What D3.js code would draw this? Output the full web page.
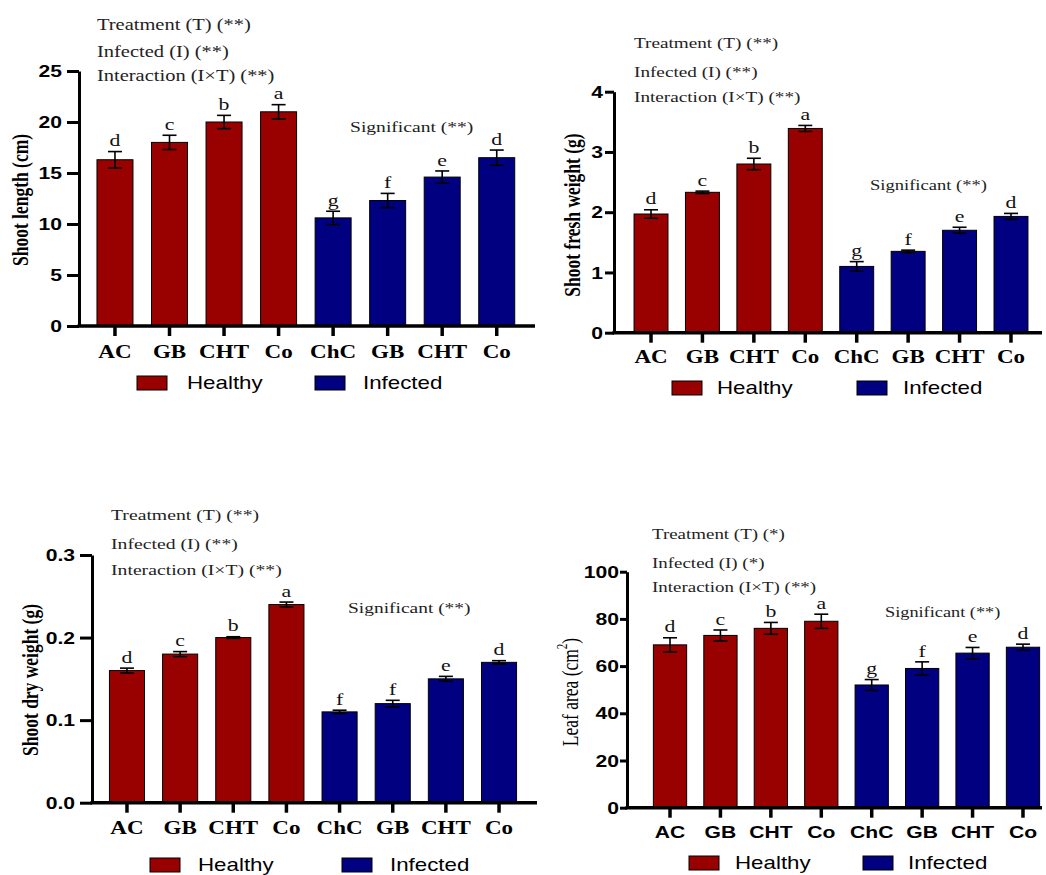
<!DOCTYPE html>
<html>
<head>
<meta charset="utf-8">
<script src="https://cdn.jsdelivr.net/npm/d3@7"></script>
<style>
  body { margin: 0; background: #ffffff; }
  svg { display: block; }
</style>
</head>
<body>
<div id="container"></div>
<script>
// categories (same order in all four panels)
var categories = ['AC', 'GB', 'CHT', 'Co', 'ChC', 'GB', 'CHT', 'Co']
var groups = ['Healthy', 'Healthy', 'Healthy', 'Healthy', 'Infected', 'Infected', 'Infected', 'Infected']
var legendNames = ['Healthy', 'Infected']

// shoot length (cm)
var shootLength = [16.3, 18.0, 20.0, 21.0, 10.6, 12.3, 14.6, 16.5]
var shootLengthErr = [0.8, 0.7, 0.65, 0.7, 0.65, 0.7, 0.6, 0.75]
var shootLengthLetters = ['d', 'c', 'b', 'a', 'g', 'f', 'e', 'd']
var shootLengthTicks = [0, 5, 10, 15, 20, 25]

// shoot fresh weight (g)
var freshWeight = [1.97, 2.33, 2.8, 3.39, 1.1, 1.35, 1.7, 1.93]
var freshWeightErr = [0.07, 0.02, 0.095, 0.05, 0.08, 0.02, 0.05, 0.05]
var freshWeightLetters = ['d', 'c', 'b', 'a', 'g', 'f', 'e', 'd']
var freshWeightTicks = [0, 1, 2, 3, 4]

// shoot dry weight (g)
var dryWeight = [0.16, 0.18, 0.2, 0.24, 0.11, 0.12, 0.15, 0.17]
var dryWeightErr = [0.003, 0.003, 0.001, 0.003, 0.002, 0.004, 0.003, 0.002]
var dryWeightLetters = ['d', 'c', 'b', 'a', 'f', 'f', 'e', 'd']
var dryWeightTicks = [0, 0.1, 0.2, 0.3]

// leaf area (cm2)
var leafArea = [69, 73, 76, 79, 52, 59, 65.5, 68]
var leafAreaErr = [3, 2.3, 2.5, 3, 2.3, 2.8, 2.4, 1.3]
var leafAreaLetters = ['d', 'c', 'b', 'a', 'g', 'f', 'e', 'd']
var leafAreaTicks = [0, 20, 40, 60, 80, 100]

// ANOVA notes
var notesAll = ['Treatment (T) (**)', 'Infected (I) (**)', 'Interaction (I\u00d7T) (**)']
var notesLeaf = ['Treatment (T) (*)', 'Infected (I) (*)', 'Interaction (I\u00d7T) (**)']
var sigNote = 'Significant (**)'

var colors = { Healthy: '#990000', Infected: '#000080' }
var SX = 1.28   // the source picture is stretched sideways

var serif = '"Liberation Serif", "Times New Roman", serif'
var sans = '"Liberation Sans", Arial, sans-serif'

var svg = d3.select('#container').append('svg')
    .attr('width', 1046)
    .attr('height', 875)

function addText(g, x, y, str, o){
    var t = g.append('text')
        .attr('transform', 'translate(' + x + ',' + y + ') scale(' + (o.sx || SX) + ',1)' + (o.rotate ? ' rotate(-90)' : ''))
        .attr('font-family', o.family || serif)
        .attr('font-size', o.size || 16)
        .attr('font-weight', o.weight || 'normal')
        .attr('text-anchor', o.anchor || 'start')
        .attr('dominant-baseline', 'central')
        .attr('fill', o.fill || '#111')
    t.text(str)
    return t
}

function drawPanel(p){
    var L = p.layout
    var g = svg.append('g')

    var x = d3.scaleBand()
        .domain(d3.range(categories.length))
        .range(L.band)
        .paddingInner(0.34)
        .paddingOuter(0.17)

    var y = d3.scaleLinear()
        .domain([0, p.ticks[p.ticks.length - 1]])
        .range([L.zeroY, L.topY])

    // bars
    g.selectAll('rect.bar')
        .data(p.values)
        .enter()
        .append('rect')
        .attr('class', 'bar')
        .attr('x', function(d, i){ return x(i) })
        .attr('y', function(d){ return y(d) })
        .attr('width', x.bandwidth())
        .attr('height', function(d){ return y(0) - y(d) })
        .attr('fill', function(d, i){ return colors[groups[i]] })
        .attr('stroke', '#000')
        .attr('stroke-width', 1)

    // error bars
    var cap = 7
    var eb = g.selectAll('g.err')
        .data(p.values)
        .enter()
        .append('g')
        .attr('class', 'err')
        .attr('stroke', '#000')
        .attr('stroke-width', 1.6)
    eb.append('line')
        .attr('x1', function(d, i){ return x(i) + x.bandwidth() / 2 })
        .attr('x2', function(d, i){ return x(i) + x.bandwidth() / 2 })
        .attr('y1', function(d, i){ return y(d - p.errors[i]) })
        .attr('y2', function(d, i){ return y(d + p.errors[i]) })
    eb.append('line')
        .attr('x1', function(d, i){ return x(i) + x.bandwidth() / 2 - cap })
        .attr('x2', function(d, i){ return x(i) + x.bandwidth() / 2 + cap })
        .attr('y1', function(d, i){ return y(d + p.errors[i]) })
        .attr('y2', function(d, i){ return y(d + p.errors[i]) })
    eb.append('line')
        .attr('x1', function(d, i){ return x(i) + x.bandwidth() / 2 - cap })
        .attr('x2', function(d, i){ return x(i) + x.bandwidth() / 2 + cap })
        .attr('y1', function(d, i){ return y(d - p.errors[i]) })
        .attr('y2', function(d, i){ return y(d - p.errors[i]) })

    // letters
    p.values.forEach(function(d, i){
        addText(g, x(i) + x.bandwidth() / 2, y(d + p.errors[i]) - 11, p.letters[i], { size: 17, anchor: 'middle' })
    })

    // y axis
    var yAxis = d3.axisLeft(y)
        .tickValues(p.ticks)
        .tickSize(L.tickLen)
        .tickSizeOuter(0)
        .tickFormat(d3.format(p.fmt))
    var ya = g.append('g')
        .attr('transform', 'translate(' + L.axisX + ',0)')
        .call(yAxis)
    ya.selectAll('path, line').attr('stroke', '#000').attr('stroke-width', 3)
    ya.selectAll('text')
        .attr('x', -L.labelGap / SX)
        .attr('dy', null)
        .attr('dominant-baseline', 'central')
        .attr('transform', 'scale(' + SX + ',1)')
        .attr('font-family', sans)
        .attr('font-weight', 'bold')
        .attr('font-size', 16.5)
        .attr('fill', '#000')

    // x axis
    var xAxis = d3.axisBottom(x)
        .tickSize(10)
        .tickSizeOuter(0)
        .tickFormat(function(i){ return categories[i] })
    var xa = g.append('g')
        .attr('transform', 'translate(0,' + L.zeroY + ')')
        .call(xAxis)
    xa.select('.domain').remove()
    xa.selectAll('line').attr('stroke', '#000').attr('stroke-width', 3.5)
    xa.selectAll('text')
        .attr('y', L.xLabelY - L.zeroY)
        .attr('dy', null)
        .attr('dominant-baseline', 'central')
        .attr('transform', 'scale(' + SX + ',1)')
        .attr('font-family', p.sansX ? sans : serif)
        .attr('font-weight', 'bold')
        .attr('font-size', p.sansX ? 16.5 : 18)
        .attr('fill', '#000')
    g.append('line')
        .attr('x1', L.axisX - 1.5)
        .attr('x2', L.axisEnd)
        .attr('y1', L.zeroY)
        .attr('y2', L.zeroY)
        .attr('stroke', '#000')
        .attr('stroke-width', 3.5)

    // y label
    var yl = addText(g, L.yLabel[0], L.yLabel[1], '', {
        size: 17.5, anchor: 'middle', rotate: true, weight: p.yBold ? 'bold' : 'normal', fill: '#000'
    })
    yl.append('tspan').text(p.label)
    if(p.labelSup){
        yl.append('tspan').attr('baseline-shift', 'super').attr('font-size', 11).text(p.labelSup)
        yl.append('tspan').text(')')
    }

    // notes
    p.notes.forEach(function(n, i){
        addText(g, L.annX, L.annY[i], n, { size: L.annFont, fill: '#222' })
    })
    addText(g, L.sig[0], L.sig[1], sigNote, { size: L.sigFont, fill: '#222' })

    // legend
    legendNames.forEach(function(name, i){
        g.append('rect')
            .attr('x', L.legend[i * 2])
            .attr('y', L.legendY - 7)
            .attr('width', 30)
            .attr('height', 14)
            .attr('fill', colors[name])
            .attr('stroke', '#000')
            .attr('stroke-width', 1)
        addText(g, L.legend[i * 2 + 1], L.legendY, name, { family: sans, size: 18, sx: 1.24, fill: '#000' })
    })
}

var panels = [
    {
        values: shootLength, errors: shootLengthErr, letters: shootLengthLetters, ticks: shootLengthTicks,
        fmt: 'd', label: 'Shoot length (cm)', yBold: true, notes: notesAll,
        layout: { axisX: 79, zeroY: 326, topY: 71, band: [87.7, 524], axisEnd: 535, tickLen: 12, labelGap: 17,
            annX: 97, annY: [25, 52, 76], annFont: 16, sig: [350, 127], sigFont: 15.3,
            yLabel: [20, 200], xLabelY: 352, legendY: 383, legend: [137, 187, 315, 363] }
    },
    {
        values: freshWeight, errors: freshWeightErr, letters: freshWeightLetters, ticks: freshWeightTicks,
        fmt: 'd', label: 'Shoot fresh weight (g)', yBold: true, notes: notesAll,
        layout: { axisX: 614, zeroY: 332.7, topY: 91.7, band: [625.3, 1036.7], axisEnd: 1042, tickLen: 9, labelGap: 11,
            annX: 634, annY: [43, 72, 97], annFont: 15, sig: [870, 185], sigFont: 14.5,
            yLabel: [572, 215], xLabelY: 357, legendY: 388, legend: [672, 717, 857, 903] }
    },
    {
        values: dryWeight, errors: dryWeightErr, letters: dryWeightLetters, ticks: dryWeightTicks,
        fmt: '.1f', label: 'Shoot dry weight (g)', yBold: true, notes: notesAll,
        layout: { axisX: 92, zeroY: 802.7, topY: 555, band: [100.4, 525.6], axisEnd: 537, tickLen: 12, labelGap: 17,
            annX: 111, annY: [515, 544, 570], annFont: 15.4, sig: [348, 608], sigFont: 15.2,
            yLabel: [30, 680], xLabelY: 828, legendY: 865, legend: [150, 198, 342, 390] }
    },
    {
        values: leafArea, errors: leafAreaErr, letters: leafAreaLetters, ticks: leafAreaTicks,
        fmt: 'd', label: 'Leaf area (cm', labelSup: '2', yBold: false, sansX: true, notes: notesLeaf,
        layout: { axisX: 627, zeroY: 807.7, topY: 571.7, band: [644.8, 1048.2], axisEnd: 1042, tickLen: 7, labelGap: 8,
            annX: 652, annY: [534, 563, 587], annFont: 14.8, sig: [885, 612], sigFont: 14.3,
            yLabel: [570, 692], xLabelY: 832, legendY: 863, legend: [689, 735, 863, 908] }
    }
]

panels.forEach(drawPanel)
</script>
</body>
</html>
